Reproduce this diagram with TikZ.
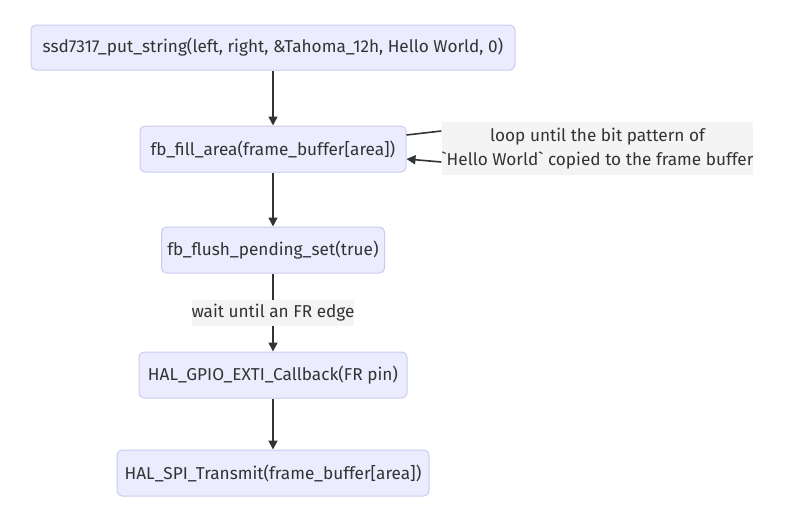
\documentclass[tikz,border=0pt]{standalone}
\usepackage{fontspec}
\setmainfont{Fira Sans}[Ligatures=TeXOff]
\usetikzlibrary{arrows.meta}
\definecolor{nodefill}{HTML}{ECECFF}
\definecolor{nodeline}{HTML}{CACAF2}
\definecolor{ink}{HTML}{333333}
\definecolor{lblfill}{HTML}{F4F4F4}
\begin{document}
\begin{tikzpicture}[x=1pt,y=-1pt,
  box/.style={draw=nodeline,fill=nodefill,rounded corners=5pt,line width=1pt,
    minimum height=46pt,inner sep=0pt,text=ink,font=\fontsize{17.2}{21}\selectfont},
  lbl/.style={fill=lblfill,inner sep=0pt,text=ink,font=\fontsize{17.2}{24}\selectfont},
  conn/.style={draw=ink,line width=1.6pt,-{Triangle[length=9pt,width=9pt]}},
  plain/.style={draw=ink,line width=1.6pt}]
\useasboundingbox (0,0) rectangle (800,530);
\node[box,minimum width=484pt,minimum height=45pt] (n1) at (273,47.5) {ssd7317\_put\_string(left, right, \&Tahoma\_12h, Hello World, 0)};
\node[box,minimum width=266pt] (n2) at (273,149) {fb\_fill\_area(frame\_buffer[area])};
\node[box,minimum width=223pt] (n3) at (273,250) {fb\_flush\_pending\_set(true)};
\node[box,minimum width=268pt] (n4) at (273,375) {HAL\_GPIO\_EXTI\_Callback(FR pin)};
\node[box,minimum width=312pt] (n5) at (273,473) {HAL\_SPI\_Transmit(frame\_buffer[area])};
\node[lbl,minimum width=309pt,minimum height=53pt,align=center] (loop) at (597.5,148.5) {loop until the bit pattern of\\`Hello World` copied to the frame buffer};
\draw[conn] (n1) -- (n2);
\draw[conn] (n2) -- (n3);
\draw[plain] (n3) -- (273,313);
\draw[conn] (273,313) -- (n4);
\node[lbl,minimum width=160pt,minimum height=26pt] (wait) at (273,313) {wait until an FR edge};
\draw[conn] (n4) -- (n5);
\draw[plain] ([yshift=14pt]n2.east) -- ([yshift=17.5pt]loop.west);
\draw[conn] ([yshift=-13.5pt]loop.west) -- ([yshift=-10pt]n2.east);
\end{tikzpicture}
\end{document}
